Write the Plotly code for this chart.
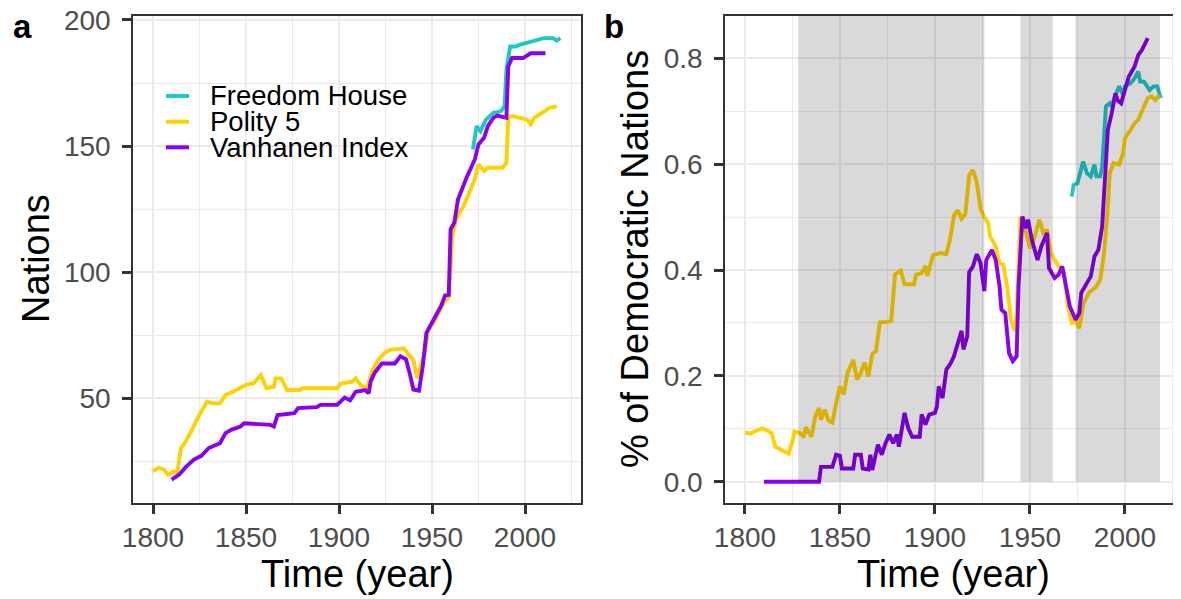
import plotly.graph_objects as go

# ---------------- data: panel a (number of democratic nations) ----------------
polity_a_years = [1800, 1803, 1806, 1808, 1811, 1813, 1815, 1817, 1821, 1824, 1829, 1832, 1836, 1839,
                  1843, 1847, 1850, 1854, 1858, 1861, 1865, 1866, 1869, 1872, 1879, 1880, 1899, 1901,
                  1907, 1909, 1912, 1915, 1918, 1921, 1925, 1928, 1935, 1937, 1940, 1942, 1944, 1946,
                  1948, 1951, 1956, 1959, 1961, 1963, 1967, 1971, 1973, 1975, 1978, 1980, 1988, 1990,
                  1991, 1994, 2001, 2003, 2005, 2009, 2013, 2017]
polity_a_vals = [21.1, 22.4, 21.7, 19.7, 21.0, 20.4, 30.3, 32.2, 37.5, 42.1, 48.7, 48.0, 48.0, 51.3,
                 52.6, 54.0, 55.3, 55.9, 59.2, 54.0, 54.6, 57.9, 57.9, 53.3, 53.3, 54.0, 54.0, 55.9,
                 56.6, 57.9, 54.9, 54.3, 61.2, 65.1, 68.4, 69.3, 69.7, 67.8, 65.1, 58.0, 62.5, 67.8,
                 77.0, 80.3, 87.5, 90.1, 114.5, 121.1, 126.3, 132.9, 136.8, 142.8, 140.1, 141.4, 141.4, 143.4,
                 161.8, 161.8, 160.5, 158.6, 161.2, 163.2, 165.1, 165.8]

vanhanen_a_years = [1810, 1814, 1818, 1822, 1826, 1830, 1836, 1839, 1842, 1847, 1849, 1863, 1865, 1867,
                    1876, 1878, 1888, 1890, 1899, 1903, 1906, 1909, 1914, 1916, 1917, 1919, 1923, 1930,
                    1933, 1936, 1938, 1940, 1943, 1944, 1945, 1947, 1950, 1952, 1955, 1957, 1959, 1960,
                    1962, 1964, 1966, 1969, 1971, 1973, 1975, 1978, 1980, 1983, 1985, 1990, 1991, 1993,
                    1999, 2003, 2011]
vanhanen_a_vals = [17.8, 19.7, 23.0, 25.7, 27.2, 30.3, 32.2, 36.2, 37.5, 38.8, 40.1, 39.5, 38.8, 43.4,
                   44.1, 46.1, 46.5, 47.4, 47.4, 50.3, 49.2, 52.6, 53.3, 52.0, 56.6, 59.9, 63.8, 63.8,
                   66.7, 65.5, 59.9, 53.5, 53.0, 57.0, 62.5, 76.0, 80.3, 82.5, 86.8, 90.8, 91.0, 117.0,
                   119.7, 128.9, 132.9, 138.2, 141.4, 144.7, 150.7, 153.3, 157.9, 161.2, 162.1, 161.2, 181.6, 184.9,
                   184.9, 186.8, 186.8]

fh_a_years = [1972, 1974, 1976, 1979, 1983, 1987, 1989, 1990, 1992, 1995, 1997, 2004, 2010, 2015, 2017, 2019]
fh_a_vals = [148.7, 157.9, 155.9, 160.5, 163.2, 163.8, 165.8, 180.3, 189.5, 189.5, 190.1, 191.4,
             192.8, 192.8, 191.8, 192.8]

# ---------------- data: panel b (share of democratic nations) ----------------
polity_b_years = [1800, 1803, 1805, 1809, 1811, 1814, 1816, 1819, 1823, 1825, 1826, 1829, 1831, 1832,
                  1835, 1837, 1839, 1840, 1842, 1844, 1846, 1848, 1850, 1852, 1854, 1857, 1859, 1861,
                  1863, 1865, 1867, 1869, 1871, 1875, 1877, 1879, 1882, 1884, 1889, 1890, 1893, 1895,
                  1896, 1899, 1903, 1906, 1908, 1910, 1912, 1914, 1916, 1918, 1920, 1922, 1924, 1926,
                  1928, 1929, 1932, 1934, 1936, 1938, 1940, 1942, 1943, 1945, 1948, 1950, 1952, 1955,
                  1957, 1959, 1961, 1964, 1965, 1968, 1970, 1972, 1974, 1976, 1978, 1981, 1985, 1987,
                  1989, 1991, 1992, 1994, 1997, 1999, 2000, 2003, 2005, 2007, 2008, 2010, 2012, 2014,
                  2016, 2018]
polity_b_vals = [0.093, 0.091, 0.095, 0.101, 0.098, 0.092, 0.066, 0.060, 0.053, 0.076, 0.095, 0.092, 0.084, 0.103,
                 0.085, 0.123, 0.139, 0.117, 0.136, 0.116, 0.112, 0.149, 0.180, 0.165, 0.206, 0.230, 0.193, 0.206,
                 0.225, 0.199, 0.241, 0.247, 0.301, 0.302, 0.304, 0.392, 0.399, 0.373, 0.373, 0.391, 0.394, 0.408,
                 0.389, 0.428, 0.432, 0.430, 0.459, 0.503, 0.513, 0.497, 0.506, 0.579, 0.589, 0.566, 0.516, 0.500,
                 0.489, 0.464, 0.445, 0.413, 0.410, 0.369, 0.306, 0.284, 0.319, 0.501, 0.470, 0.441, 0.457, 0.495,
                 0.470, 0.476, 0.432, 0.413, 0.407, 0.394, 0.331, 0.300, 0.303, 0.290, 0.335, 0.357, 0.369, 0.382,
                 0.432, 0.520, 0.583, 0.602, 0.599, 0.621, 0.649, 0.665, 0.677, 0.684, 0.693, 0.709, 0.725, 0.728,
                 0.721, 0.731]

vanhanen_b_years = [1810, 1839, 1840, 1846, 1848, 1850, 1851, 1857, 1858, 1861, 1862, 1865, 1866, 1867,
                    1870, 1872, 1874, 1876, 1878, 1880, 1881, 1884, 1886, 1888, 1892, 1893, 1895, 1897,
                    1900, 1901, 1902, 1904, 1906, 1908, 1910, 1911, 1913, 1914, 1915, 1917, 1918, 1920,
                    1922, 1924, 1926, 1927, 1930, 1932, 1934, 1935, 1937, 1939, 1941, 1943, 1944, 1946,
                    1948, 1949, 1951, 1954, 1956, 1959, 1960, 1963, 1965, 1967, 1969, 1971, 1974, 1976,
                    1977, 1980, 1982, 1984, 1986, 1988, 1990, 1991, 1993, 1995, 1996, 1998, 2000, 2002,
                    2005, 2007, 2009, 2012]
vanhanen_b_vals = [0.0, 0.0, 0.028, 0.028, 0.051, 0.049, 0.025, 0.025, 0.051, 0.051, 0.025, 0.023, 0.051, 0.022,
                   0.070, 0.051, 0.073, 0.089, 0.073, 0.089, 0.066, 0.130, 0.101, 0.085, 0.085, 0.127, 0.108, 0.127,
                   0.130, 0.142, 0.180, 0.158, 0.212, 0.222, 0.237, 0.250, 0.270, 0.285, 0.250, 0.275, 0.396, 0.407,
                   0.430, 0.413, 0.360, 0.419, 0.438, 0.419, 0.369, 0.325, 0.319, 0.243, 0.228, 0.237, 0.369, 0.501,
                   0.479, 0.495, 0.457, 0.419, 0.445, 0.470, 0.404, 0.385, 0.391, 0.407, 0.369, 0.331, 0.306, 0.319,
                   0.357, 0.375, 0.388, 0.426, 0.438, 0.482, 0.596, 0.665, 0.696, 0.734, 0.721, 0.715, 0.740, 0.765,
                   0.784, 0.806, 0.816, 0.838]

fh_b_years = [1972, 1973, 1975, 1976, 1978, 1980, 1982, 1984, 1985, 1987, 1988, 1990, 1992, 1993,
              1995, 1997, 1999, 2000, 2003, 2005, 2007, 2008, 2010, 2013, 2015, 2017, 2019]
fh_b_vals = [0.539, 0.561, 0.564, 0.577, 0.605, 0.583, 0.577, 0.599, 0.577, 0.577, 0.596, 0.709, 0.715, 0.709,
             0.731, 0.747, 0.731, 0.747, 0.753, 0.762, 0.775, 0.756, 0.756, 0.740, 0.747, 0.747, 0.725]

# democratization waves (start, end)
wave_starts = [1828, 1945, 1974]
wave_ends = [1926, 1962, 2018.5]

series_names = ["Freedom House", "Polity 5", "Vanhanen Index"]
series_colors = ["#1FC7C7", "#FFD100", "#8A00F0"]

x_ticks = [1800, 1850, 1900, 1950, 2000]
x_minor = [1825, 1875, 1925, 1975, 2025]
ya_ticks = [50, 100, 150, 200]
ya_minor = [25, 75, 125, 175]
yb_ticks = [0.0, 0.2, 0.4, 0.6, 0.8]
yb_tick_text = ["0.0", "0.2", "0.4", "0.6", "0.8"]
yb_minor = [0.1, 0.3, 0.5, 0.7]

# ---------------- figure ----------------
PAGE_OFF = 8          # default body margin of the html page
W, H = 1181 - PAGE_OFF, 599 - PAGE_OFF
FONT = "Liberation Sans, Arial, sans-serif"
LW = 3.9

fig = go.Figure()
panel_a = [(fh_a_years, fh_a_vals), (polity_a_years, polity_a_vals), (vanhanen_a_years, vanhanen_a_vals)]
panel_b = [(fh_b_years, fh_b_vals), (polity_b_years, polity_b_vals), (vanhanen_b_years, vanhanen_b_vals)]
for i, (xs, ys) in enumerate(panel_a):
    fig.add_trace(go.Scatter(x=xs, y=ys, mode="lines", name=series_names[i],
                             line=dict(color=series_colors[i], width=LW),
                             xaxis="x", yaxis="y", showlegend=False))
for i, (xs, ys) in enumerate(panel_b):
    fig.add_trace(go.Scatter(x=xs, y=ys, mode="lines", name=series_names[i],
                             line=dict(color=series_colors[i], width=LW),
                             xaxis="x2", yaxis="y2", showlegend=False))

# helpers: page pixel -> paper fraction
def px_x(p):
    return min(1.0, (p - PAGE_OFF) / W)

def px_y(p):
    return 1 - (p - PAGE_OFF) / H

tickfont = dict(family=FONT, size=28, color="#4d4d4d")
grid = dict(showgrid=True, gridcolor="#ebebeb", gridwidth=2.4, automargin=False,
            showline=True, linecolor="#333333", linewidth=1.6, mirror=True,
            ticks="outside", ticklen=9, tickwidth=2.6, tickcolor="#333333",
            tickfont=tickfont, zeroline=False, ticklabeloverflow="allow")
minor_style = dict(showgrid=True, gridcolor="#ebebeb", gridwidth=1.2, ticks="")

ax_a = dict(domain=[px_x(133), px_x(581)], range=[1789.25, 2030.1], tickvals=x_ticks,
            minor=dict(tickvals=x_minor, **minor_style), anchor="y", ticklabelstandoff=0, **grid)
ay_a = dict(domain=[px_y(503), px_y(15.7)], range=[8.5, 201.7], tickvals=ya_ticks,
            minor=dict(tickvals=ya_minor, **minor_style), anchor="x", ticklabelstandoff=6, **grid)
ax_b = dict(domain=[px_x(725), 1.0], range=[1789.5, 2029.5], tickvals=x_ticks,
            minor=dict(tickvals=x_minor, **minor_style), anchor="y2", ticklabelstandoff=0, **grid)
ay_b = dict(domain=[px_y(503), px_y(15.7)], range=[-0.0402, 0.8805], tickvals=yb_ticks,
            ticktext=yb_tick_text, minor=dict(tickvals=yb_minor, **minor_style), anchor="x2",
            ticklabelstandoff=6, **grid)

shapes = []
# wave shading drawn on top of the lines (as in the reference)
for s, e in zip(wave_starts, wave_ends):
    shapes.append(dict(type="rect", xref="x2", yref="y2", x0=s, x1=e, y0=0, y1=0.8805,
                       fillcolor="rgba(0,0,0,0.15)", line=dict(width=0), layer="above"))

# legend box of panel a (white background over the grid)
shapes.append(dict(type="rect", xref="paper", yref="paper", x0=px_x(145), x1=px_x(440),
                   y0=px_y(182), y1=px_y(43), fillcolor="white", line=dict(width=0), layer="between"))
annotations = []
leg_y = [96, 121.7, 147.3]
for i, name in enumerate(series_names):
    shapes.append(dict(type="line", xref="paper", yref="paper", x0=px_x(166), x1=px_x(189),
                       y0=px_y(leg_y[i]), y1=px_y(leg_y[i]),
                       line=dict(color=series_colors[i], width=4), layer="above"))
    annotations.append(dict(text=name, xref="paper", yref="paper", x=px_x(208), y=px_y(leg_y[i]),
                            xanchor="left", yanchor="middle", showarrow=False,
                            font=dict(family=FONT, size=27.5, color="black")))

title_font = dict(family=FONT, size=38, color="black")
annotations += [
    dict(text="Nations", xref="paper", yref="paper", x=px_x(36), y=px_y(259), textangle=-90,
         xanchor="center", yanchor="middle", showarrow=False, font=title_font),
    dict(text="Time (year)", xref="paper", yref="paper", x=px_x(357), y=px_y(574),
         xanchor="center", yanchor="middle", showarrow=False, font=title_font),
    dict(text="% of Democratic Nations", xref="paper", yref="paper", x=px_x(635), y=px_y(259),
         textangle=-90, xanchor="center", yanchor="middle", showarrow=False, font=title_font),
    dict(text="Time (year)", xref="paper", yref="paper", x=px_x(953), y=px_y(574),
         xanchor="center", yanchor="middle", showarrow=False, font=title_font),
    dict(text="<b>a</b>", xref="paper", yref="paper", x=px_x(11), y=px_y(27),
         xanchor="left", yanchor="middle", showarrow=False,
         font=dict(family=FONT, size=33, color="black")),
    dict(text="<b>b</b>", xref="paper", yref="paper", x=px_x(602), y=px_y(27),
         xanchor="left", yanchor="middle", showarrow=False,
         font=dict(family=FONT, size=33, color="black")),
]

fig.update_layout(
    width=W, height=H, margin=dict(l=0, r=0, t=0, b=0, autoexpand=False),
    paper_bgcolor="white", plot_bgcolor="white",
    xaxis=ax_a, yaxis=ay_a, xaxis2=ax_b, yaxis2=ay_b,
    shapes=shapes, annotations=annotations, showlegend=False,
    font=dict(family=FONT),
)

fig.write_html("out.html")
